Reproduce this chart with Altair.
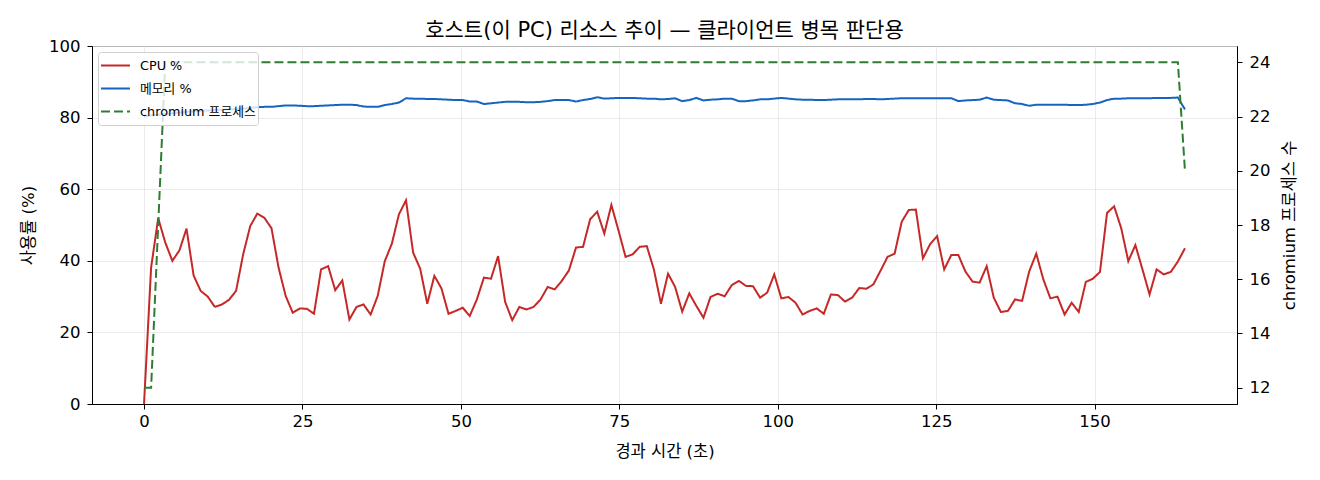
import altair as alt
import pandas as pd

cpu = [0.0, 38.1, 51.9, 45.1, 40.0, 42.9, 49.0, 35.9, 31.6, 30.0,
       27.1, 27.8, 29.1, 31.6, 41.8, 49.7, 53.2, 52.0, 49.1, 38.1,
       30.2, 25.5, 26.7, 26.6, 25.2, 37.6, 38.5, 31.8, 34.5, 23.6,
       27.1, 27.8, 25.0, 30.2, 39.9, 44.8, 53.0, 56.9, 42.3, 37.8,
       28.0, 35.8, 32.3, 25.2, 26.0, 26.9, 24.6, 29.2, 35.3, 35.0,
       41.3, 28.5, 23.4, 27.1, 26.4, 27.1, 29.2, 32.7, 32.0, 34.4,
       37.3, 43.7, 43.9, 51.6, 53.7, 47.6, 55.6, 48.5, 41.1, 41.8,
       43.9, 44.1, 37.6, 28.0, 36.4, 32.7, 25.8, 30.9, 27.4, 24.1,
       29.9, 30.8, 30.1, 33.2, 34.4, 33.0, 32.9, 29.7, 31.1, 36.2,
       29.5, 29.9, 28.3, 25.0, 26.0, 26.7, 25.2, 30.6, 30.4, 28.6,
       29.7, 32.4, 32.2, 33.4, 37.2, 41.1, 42.0, 50.9, 54.2, 54.3,
       40.7, 44.6, 46.9, 37.6, 41.6, 41.6, 37.0, 34.2, 33.9, 38.5,
       29.7, 25.7, 26.0, 29.2, 28.8, 37.0, 42.0, 34.8, 29.5, 30.0,
       25.0, 28.3, 25.7, 34.1, 35.0, 36.9, 53.4, 55.2, 49.1, 39.9,
       44.4, 37.6, 30.6, 37.6, 36.2, 36.9, 39.8, 43.5]

mem = [80.3, 80.6, 80.8, 81.0, 81.2, 81.4, 81.6, 81.7, 81.9, 82.0,
       82.1, 82.2, 82.3, 82.4, 82.5, 82.7, 82.9, 83.0, 83.0, 83.2,
       83.4, 83.4, 83.3, 83.2, 83.2, 83.3, 83.4, 83.5, 83.6, 83.6,
       83.5, 83.1, 83.0, 83.0, 83.5, 83.8, 84.2, 85.4, 85.3, 85.3,
       85.2, 85.2, 85.1, 85.0, 84.9, 84.9, 84.5, 84.5, 83.8, 84.0,
       84.2, 84.4, 84.4, 84.4, 84.3, 84.3, 84.4, 84.6, 84.9, 84.9,
       84.9, 84.5, 84.9, 85.2, 85.7, 85.3, 85.4, 85.5, 85.5, 85.5,
       85.4, 85.3, 85.3, 85.1, 85.2, 85.4, 84.6, 84.9, 85.5, 84.8,
       85.0, 85.1, 85.3, 85.3, 84.6, 84.6, 84.8, 85.1, 85.1, 85.3,
       85.5, 85.3, 85.1, 85.0, 85.0, 84.9, 84.9, 85.0, 85.1, 85.1,
       85.1, 85.1, 85.2, 85.2, 85.1, 85.2, 85.3, 85.4, 85.4, 85.4,
       85.4, 85.4, 85.4, 85.4, 85.4, 84.6, 84.8, 84.9, 85.0, 85.6,
       85.0, 84.9, 84.8, 84.0, 83.8, 83.3, 83.6, 83.6, 83.6, 83.6,
       83.6, 83.5, 83.5, 83.6, 83.8, 84.2, 84.9, 85.3, 85.3, 85.4,
       85.4, 85.4, 85.4, 85.5, 85.5, 85.5, 85.6, 82.3]

procs = [12, 12, 18] + [24] * 144 + [20]

sample_interval = 1.1174  # seconds between samples
n = len(cpu)
elapsed = [round(i * sample_interval, 3) for i in range(n)]

series_names = ["CPU %", "메모리 %", "chromium 프로세스"]
series_colors = ["#c62828", "#1565c0", "#2e7d32"]
series_dash = [[1, 0], [1, 0], [9, 4]]

x_ticks = [0, 25, 50, 75, 100, 125, 150]
left_ticks = [0, 20, 40, 60, 80, 100]
right_ticks = [12, 14, 16, 18, 20, 22, 24]

title_text = "호스트(이 PC) 리소스 추이 — 클라이언트 병목 판단용"
x_title = "경과 시간 (초)"
left_title = "사용률 (%)"
right_title = "chromium 프로세스 수"

FONT = "DejaVu Sans, Noto Sans CJK KR, sans-serif"

left_df = pd.DataFrame({
    "t": elapsed + elapsed,
    "v": cpu + mem,
    "s": [series_names[0]] * n + [series_names[1]] * n,
})
right_df = pd.DataFrame({
    "t": elapsed,
    "v": procs,
    "s": [series_names[2]] * n,
})

legend = alt.Legend(
    title=None, orient="none", legendX=6, legendY=6,
    symbolType="stroke", symbolSize=841, symbolStrokeWidth=2,
    labelFontSize=12.8, labelFont=FONT, labelColor="#000000",
    fillColor="rgba(255,255,255,0.8)", strokeColor="#d0d0d0",
    cornerRadius=3, padding=2, rowPadding=0, clipHeight=23, labelOffset=9,
)

color = alt.Color("s:N", scale=alt.Scale(domain=series_names, range=series_colors), legend=legend)
dash = alt.StrokeDash("s:N", scale=alt.Scale(domain=series_names, range=series_dash), legend=legend)

x_enc = alt.X("t:Q", title=x_title,
              scale=alt.Scale(domain=[-8.21, 172.47], nice=False, zero=False),
              axis=alt.Axis(values=x_ticks, grid=True, titlePadding=14))

left = alt.Chart(left_df).mark_line(strokeWidth=2).encode(
    x=x_enc,
    y=alt.Y("v:Q", title=left_title,
            scale=alt.Scale(domain=[0, 100], nice=False, zero=False),
            axis=alt.Axis(values=left_ticks, grid=True, titlePadding=12, labelPadding=7)),
    color=color, strokeDash=dash, order=alt.Order("t:Q"),
)

right = alt.Chart(right_df).mark_line(strokeWidth=2).encode(
    x=x_enc,
    y=alt.Y("v:Q", title=right_title,
            scale=alt.Scale(domain=[11.4, 24.6], nice=False, zero=False),
            axis=alt.Axis(values=right_ticks, grid=False, orient="right",
                          titlePadding=12, labelPadding=7, titleAngle=270,
                          titleBaseline="top")),
    color=color, strokeDash=dash, order=alt.Order("t:Q"),
)

chart = alt.layer(left, right).resolve_scale(y="independent").properties(
    width=1145, height=358,
    padding={"left": 12, "top": 12, "right": 5, "bottom": 5},
    title=alt.TitleParams(title_text, font=FONT, fontSize=21, fontWeight="normal",
                          color="#000000", anchor="middle", offset=-3),
).configure_view(stroke="black", strokeWidth=1).configure_axis(
    labelFont=FONT, titleFont=FONT, labelFontSize=16.5, titleFontSize=16.5,
    titleFontWeight="normal", labelColor="#000000", titleColor="#000000",
    domainColor="black", tickColor="black", tickSize=5, labelPadding=4,
    gridColor="#e6e6e6", gridWidth=0.8,
)

chart.save("out.html", embed_options={"renderer": "svg", "actions": False})
